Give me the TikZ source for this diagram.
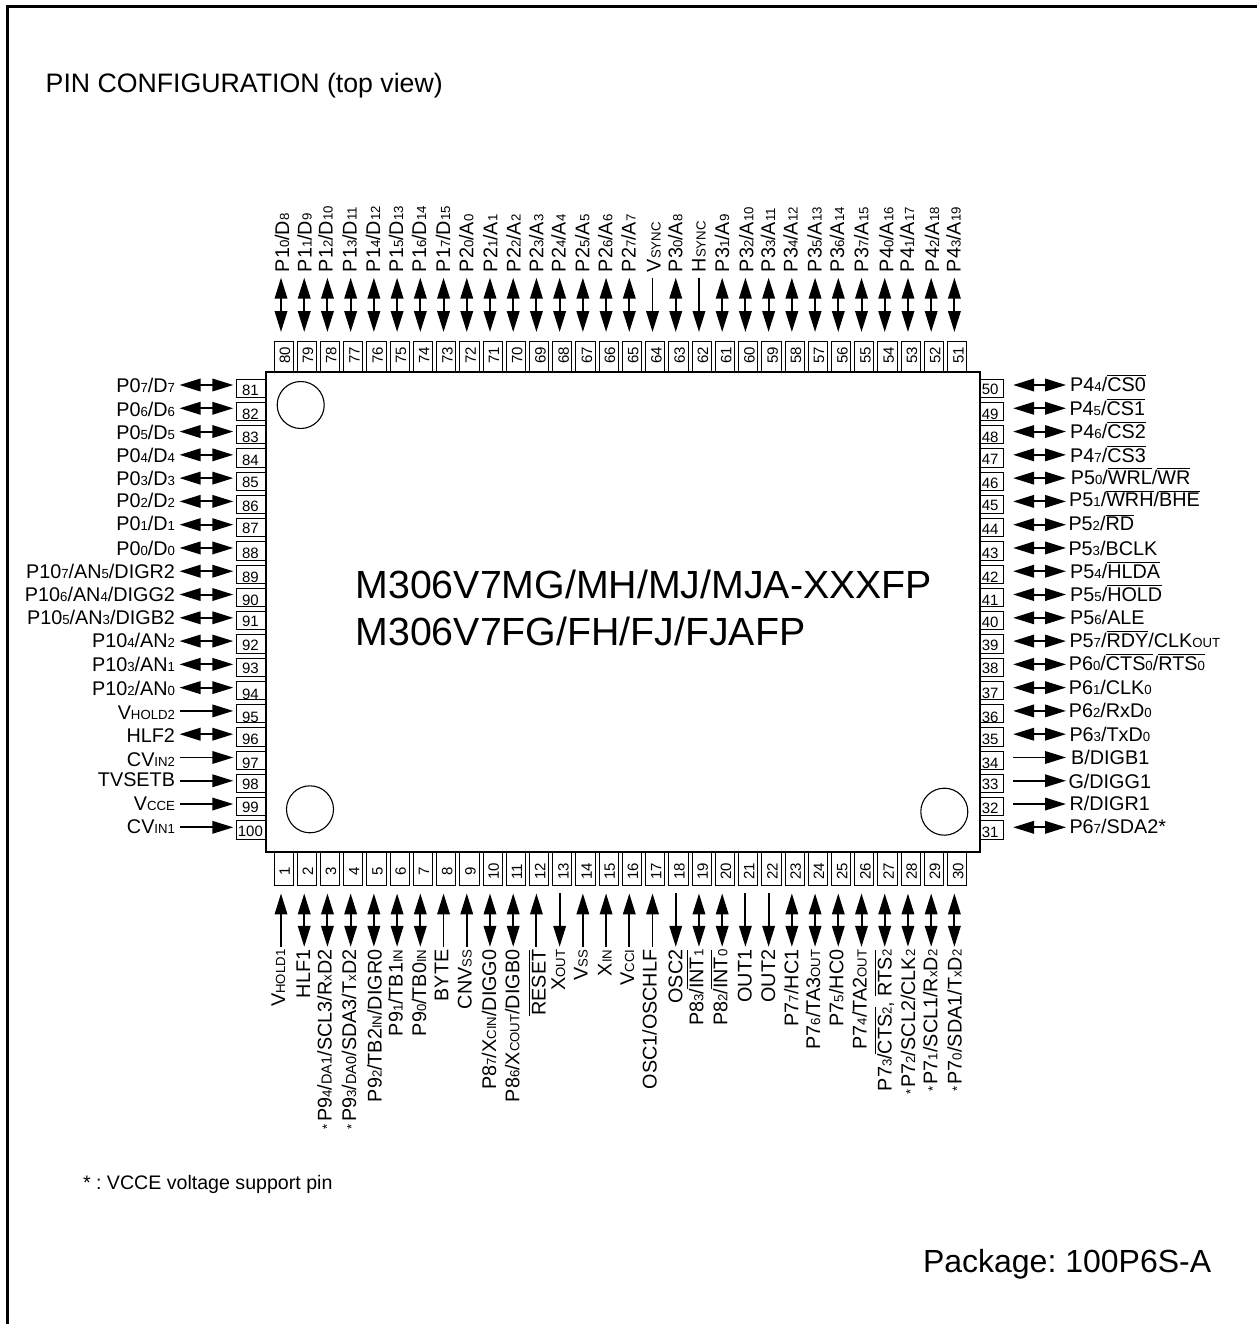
\documentclass[tikz,border=0pt]{standalone}
\usepackage{fontspec}
\usepackage{graphicx}
\setmainfont{Liberation Sans}
\usetikzlibrary{arrows.meta}
\newcommand\lblfont{\fontsize{19.8}{22}\selectfont}
\newcommand\pinfont{\fontsize{15}{16}\selectfont}
\newcommand\ssub[1]{{\fontsize{13.2}{14}\selectfont #1}}
\newcommand\ovl[1]{\leavevmode\vbox{\hrule height .8pt \kern 1.6pt \hbox{#1}}}
\newcommand\pn[3]{\smash{\makebox[0pt]{\kern#1pt\raisebox{\dimexpr-5.4pt-#2pt\relax}{#3}}}}
\newcommand\pr[3]{\smash{\makebox[0pt]{\kern#1pt\raisebox{\dimexpr-5.4pt-#2pt\relax}{\rotatebox[origin=c]{90}{#3}}}}}
% n, label baseline y, number dy, arrow style, text
\newcommand\lpin[5]{%
  \node[pinbox,minimum width=29.3pt,minimum height=18.4pt] (pin#1) at (251.35,{388.2+23.25*(#1-81)}) {\pn{-2}{#3}{#1}};
  \coordinate (end#1) at (179.5,{385+23.28*(#1-81)});
  \draw[#4,shorten >=3.4pt] (end#1) -- (end#1 -| pin#1.west);
  \node[lbl,anchor=base east] (lab#1) at (175,#2) {#5};}
% n, label ink x, label baseline y, number dy, arrow style, text
\newcommand\rpin[6]{%
  \node[pinbox,minimum width=23.7pt,minimum height=18.4pt] (pin#1) at (991.85,{388.2+23.25*(50-#1)}) {\pn{-3.5}{#4}{#1}};
  \coordinate (end#1) at (1066,{385+23.28*(50-#1)});
  \draw[#5,shorten >=9.4pt] (end#1) -- (end#1 -| pin#1.east);
  \node[lbl,anchor=base west] (lab#1) at ({#2-1.5},#3) {#6};}
% n, label baseline x, arrow style, text
\newcommand\tpin[4]{%
  \node[pinbox,minimum width=19.2pt,minimum height=31pt] (pin#1) at ({283.6+23.23*(80-#1)},356.5) {\pr{2.5}{-1.2}{#1}};
  \coordinate (end#1) at ({281+23.22*(80-#1)},277.7);
  \draw[#3,shorten >=9pt] (end#1) -- (end#1 |- pin#1.north);
  \node[lbl,rotate=90,anchor=base west] (lab#1) at (#2,272.2) {#4};}
\newcommand\bpin[4]{%
  \node[pinbox,minimum width=19.2pt,minimum height=33.5pt] (pin#1) at ({283.6+23.23*(#1-1)},868.7) {\pr{2}{2.5}{#1}};
  \coordinate (end#1) at ({281+23.22*(#1-1)},946.8);
  \draw[#3,shorten >=8pt] (end#1) -- (end#1 |- pin#1.south);
  \node[lbl,rotate=90,anchor=base east] (lab#1) at (#2,949.6) {#4};}
\begin{document}
\frenchspacing
\begin{tikzpicture}[x=1pt,y=-1pt,
  every node/.style={inner sep=0pt,outer sep=0pt,text=black},
  pinbox/.style={draw,rectangle,line width=1pt,font=\pinfont,fill=white},
  lbl/.style={font=\lblfont},
  bigtip/.tip={Triangle[length=21pt,width=12.5pt]},
  bidir/.style={line width=2pt,{bigtip}-{bigtip}},
  toin/.style={line width=1.9pt,-{bigtip}},
  toout/.style={line width=1.9pt,{bigtip}-}]
\useasboundingbox (0,0) rectangle (1257,1324);
\coordinate (fa) at (7.5,1324);
\coordinate (fb) at (7.5,6.5);
\coordinate (fc) at (1257,6.5);
\draw[line width=2.5pt] (fa) -- (fb) -- (fc);
\node[font=\fontsize{26.7}{28}\selectfont,anchor=base west] (title) at (45.7,93) {PIN CONFIGURATION (top view)};
% top pins
\tpin{80}{289}{bidir}{P1\ssub{0}/D\ssub{8}}
\tpin{79}{311.7}{bidir}{P1\ssub{1}/D\ssub{9}}
\tpin{78}{332.7}{bidir}{P1\ssub{2}/D\ssub{10}}
\tpin{77}{356.7}{bidir}{P1\ssub{3}/D\ssub{11}}
\tpin{76}{380}{bidir}{P1\ssub{4}/D\ssub{12}}
\tpin{75}{403}{bidir}{P1\ssub{5}/D\ssub{13}}
\tpin{74}{426}{bidir}{P1\ssub{6}/D\ssub{14}}
\tpin{73}{450}{bidir}{P1\ssub{7}/D\ssub{15}}
\tpin{72}{473.3}{bidir}{P2\ssub{0}/A\ssub{0}}
\tpin{71}{497.3}{bidir}{P2\ssub{1}/A\ssub{1}}
\tpin{70}{520.7}{bidir}{P2\ssub{2}/A\ssub{2}}
\tpin{69}{543.3}{bidir}{P2\ssub{3}/A\ssub{3}}
\tpin{68}{565.7}{bidir}{P2\ssub{4}/A\ssub{4}}
\tpin{67}{589.3}{bidir}{P2\ssub{5}/A\ssub{5}}
\tpin{66}{612.3}{bidir}{P2\ssub{6}/A\ssub{6}}
\tpin{65}{635.7}{bidir}{P2\ssub{7}/A\ssub{7}}
\tpin{64}{660.7}{toin}{V\ssub{SYNC}}
\tpin{63}{682.3}{bidir}{P3\ssub{0}/A\ssub{8}}
\tpin{62}{705.7}{toin}{H\ssub{SYNC}}
\tpin{61}{729}{bidir}{P3\ssub{1}/A\ssub{9}}
\tpin{60}{753.3}{bidir}{P3\ssub{2}/A\ssub{10}}
\tpin{59}{775}{bidir}{P3\ssub{3}/A\ssub{11}}
\tpin{58}{797.7}{bidir}{P3\ssub{4}/A\ssub{12}}
\tpin{57}{821.7}{bidir}{P3\ssub{5}/A\ssub{13}}
\tpin{56}{844}{bidir}{P3\ssub{6}/A\ssub{14}}
\tpin{55}{868.3}{bidir}{P3\ssub{7}/A\ssub{15}}
\tpin{54}{893.3}{bidir}{P4\ssub{0}/A\ssub{16}}
\tpin{53}{914}{bidir}{P4\ssub{1}/A\ssub{17}}
\tpin{52}{939}{bidir}{P4\ssub{2}/A\ssub{18}}
\tpin{51}{960.7}{bidir}{P4\ssub{3}/A\ssub{19}}
% left pins
\lpin{81}{392.3}{1.5}{bidir}{P0\ssub{7}/D\ssub{7}}
\lpin{82}{416}{2.5}{bidir}{P0\ssub{6}/D\ssub{6}}
\lpin{83}{439.3}{2.6}{bidir}{P0\ssub{5}/D\ssub{5}}
\lpin{84}{462.3}{2}{bidir}{P0\ssub{4}/D\ssub{4}}
\lpin{85}{485}{1.1}{bidir}{P0\ssub{3}/D\ssub{3}}
\lpin{86}{507.7}{1.2}{bidir}{P0\ssub{2}/D\ssub{2}}
\lpin{87}{530.7}{.6}{bidir}{P0\ssub{1}/D\ssub{1}}
\lpin{88}{555}{1.7}{bidir}{P0\ssub{0}/D\ssub{0}}
\lpin{89}{578.3}{2.5}{bidir}{P10\ssub{7}/AN\ssub{5}/DIGR2}
\lpin{90}{601.7}{2.5}{bidir}{P10\ssub{6}/AN\ssub{4}/DIGG2}
\lpin{91}{624}{.3}{bidir}{P10\ssub{5}/AN\ssub{3}/DIGB2}
\lpin{92}{647.7}{1}{bidir}{P10\ssub{4}/AN\ssub{2}}
\lpin{93}{671}{1.1}{bidir}{P10\ssub{3}/AN\ssub{1}}
\lpin{94}{695.7}{3.5}{bidir}{P10\ssub{2}/AN\ssub{0}}
\lpin{95}{719}{3}{toin}{V\ssub{HOLD2}}
\lpin{96}{742.3}{2.3}{bidir}{HLF2}
\lpin{97}{766}{3}{toin}{CV\ssub{IN2}}
\lpin{98}{786.7}{.8}{toin}{TVSETB}
\lpin{99}{810}{.6}{toin}{V\ssub{CCE}}
\lpin{100}{833.3}{.7}{toin}{CV\ssub{IN1}}
% right pins
\rpin{50}{1071.7}{391}{1.1}{bidir}{P4\ssub{4}/\ovl{CS0}}
\rpin{49}{1071}{415}{2.6}{bidir}{P4\ssub{5}/\ovl{CS1}}
\rpin{48}{1071.7}{438.3}{2.6}{bidir}{P4\ssub{6}/\ovl{CS2}}
\rpin{47}{1071.7}{462.3}{1.35}{bidir}{P4\ssub{7}/\ovl{CS3}}
\rpin{46}{1072.3}{484}{1.5}{bidir}{P5\ssub{0}/\ovl{WRL}/\ovl{WR}}
\rpin{45}{1070.7}{506.7}{.85}{bidir}{P5\ssub{1}/\ovl{WRH}/\ovl{BHE}}
\rpin{44}{1070}{530.7}{1.6}{bidir}{P5\ssub{2}/\ovl{RD}}
\rpin{43}{1070}{555.7}{1.75}{bidir}{P5\ssub{3}/BCLK}
\rpin{42}{1071.7}{578.3}{3.1}{bidir}{P5\ssub{4}/\ovl{HLDA}}
\rpin{41}{1071.7}{601.7}{2.55}{bidir}{P5\ssub{5}/\ovl{HOLD}}
\rpin{40}{1071.7}{624}{1}{bidir}{P5\ssub{6}/ALE}
\rpin{39}{1071}{647.3}{1}{bidir}{P5\ssub{7}/\ovl{RDY}/CLK\ssub{OUT}}
\rpin{38}{1070.3}{670.7}{1.1}{bidir}{P6\ssub{0}/\ovl{CTS\ssub{0}}/\ovl{RTS\ssub{0}}}
\rpin{37}{1070.3}{694.3}{2.85}{bidir}{P6\ssub{1}/CLK\ssub{0}}
\rpin{36}{1070.3}{717.7}{3}{bidir}{P6\ssub{2}/RxD\ssub{0}}
\rpin{35}{1071}{741}{2.35}{bidir}{P6\ssub{3}/TxD\ssub{0}}
\rpin{34}{1072.7}{764}{3.1}{toout}{B/DIGB1}
\rpin{33}{1070}{788.3}{.85}{toout}{G/DIGG1}
\rpin{32}{1071}{810}{1}{toout}{R/DIGR1}
\rpin{31}{1071}{833.3}{2.35}{bidir}{P6\ssub{7}/SDA2*}
% bottom pins
\bpin{1}{285}{toin}{V\ssub{HOLD1}}
\bpin{2}{310}{bidir}{HLF1}
\bpin{3}{331.7}{bidir}{\ssub{*}\kern3pt P9\ssub{4}/{\fontsize{14.5}{15}\selectfont DA1}/SCL3/R\ssub{x}D2}
\bpin{4}{356}{bidir}{\ssub{*}\kern3pt P9\ssub{3}/{\fontsize{14.5}{15}\selectfont DA0}/SDA3/T\ssub{x}D2}
\bpin{5}{381.7}{bidir}{P9\ssub{2}/TB2\ssub{IN}/DIGR0}
\bpin{6}{402.7}{bidir}{P9\ssub{1}/TB1\ssub{IN}}
\bpin{7}{426}{bidir}{P9\ssub{0}/TB0\ssub{IN}}
\bpin{8}{448.3}{toin}{BYTE}
\bpin{9}{471.7}{toin}{CNV\ssub{SS}}
\bpin{10}{496}{bidir}{P8\ssub{7}/X\ssub{CIN}/DIGG0}
\bpin{11}{519.3}{bidir}{P8\ssub{6}/X\ssub{COUT}/DIGB0}
\bpin{12}{545.7}{toin}{\ovl{RESET}}
\bpin{13}{565}{toout}{X\ssub{OUT}}
\bpin{14}{587.7}{toin}{V\ssub{SS}}
\bpin{15}{611.7}{toin}{X\ssub{IN}}
\bpin{16}{634}{toin}{V\ssub{CCI}}
\bpin{17}{656.7}{toin}{OSC1/OSCHLF}
\bpin{18}{682.3}{toout}{OSC2}
\bpin{19}{703.3}{bidir}{P8\ssub{3}/\ovl{INT\ssub{1}}}
\bpin{20}{727.3}{bidir}{P8\ssub{2}/\ovl{INT\ssub{0}}}
\bpin{21}{751.7}{toout}{OUT1}
\bpin{22}{775}{toout}{OUT2}
\bpin{23}{798.3}{bidir}{P7\ssub{7}/HC1}
\bpin{24}{820}{bidir}{P7\ssub{6}/TA3\ssub{OUT}}
\bpin{25}{843.3}{bidir}{P7\ssub{5}/HC0}
\bpin{26}{866.7}{bidir}{P7\ssub{4}/TA2\ssub{OUT}}
\bpin{27}{891.7}{bidir}{P7\ssub{3}/\ovl{CTS\ssub{2}}, \ovl{RTS\ssub{2}}}
\bpin{28}{915}{bidir}{\ssub{*}\kern2pt P7\ssub{2}/SCL2/CLK\ssub{2}}
\bpin{29}{937.3}{bidir}{\ssub{*}\kern2pt P7\ssub{1}/SCL1/R\ssub{x}D\ssub{2}}
\bpin{30}{961.7}{bidir}{\ssub{*}\kern2pt P7\ssub{0}/SDA1/T\ssub{x}D\ssub{2}}
% chip body
\node[draw,rectangle,fill=white,line width=1.2pt,minimum width=714pt,minimum height=480pt] (chip) at (623,612) {};
\node[circle,draw,line width=1.1pt,minimum size=47pt] (markA) at (300.7,405) {};
\node[circle,draw,line width=1.1pt,minimum size=47pt] (markB) at (310,809.3) {};
\node[circle,draw,line width=1.1pt,minimum size=47pt] (markC) at (944.3,811.7) {};
\node[font=\fontsize{39.3}{42}\selectfont,anchor=base west] (partA) at (355.5,598) {M306V7MG/MH/MJ/MJA-XXXFP};
\node[font=\fontsize{39.3}{42}\selectfont,anchor=base west] (partB) at (355.5,645) {M306V7FG/FH/FJ/FJAFP};
\node[font=\fontsize{19.6}{22}\selectfont,anchor=base west] (note) at (83,1189.3) {* : VCCE voltage support pin};
\node[font=\fontsize{32}{34}\selectfont,anchor=base west] (pkg) at (923,1272.7) {Package: 100P6S-A};
\end{tikzpicture}
\end{document}
